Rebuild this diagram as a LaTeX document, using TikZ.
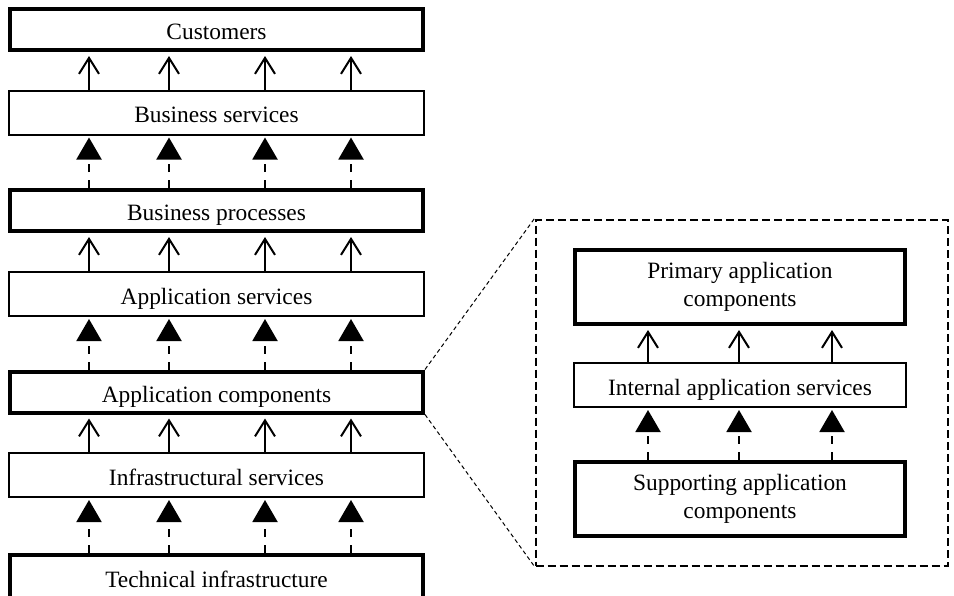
\documentclass[tikz,border=0pt]{standalone}
\usepackage{fontspec}
\setmainfont{Liberation Serif}
\usetikzlibrary{arrows.meta}

\begin{document}
\begin{tikzpicture}[x=0.5pt,y=-0.5pt,
    layer/.style={draw, inner sep=0pt, align=center, font=\fontsize{11.7}{14}\selectfont},
    oneline/.style={text height=11pt, text depth=0.7pt},
    thickbox/.style={layer, oneline, line width=2pt, minimum width=206.5pt, minimum height=20.5pt},
    thinbox/.style={layer, oneline, line width=1pt, minimum width=207.5pt, minimum height=22pt},
    twoline/.style={layer, line width=2pt, minimum width=165pt, minimum height=37pt},
    openarr/.style={-{Straight Barb[length=8pt,width=10pt]}, line width=1pt, shorten >=2pt},
    fillarr/.style={-{Triangle[length=11pt,width=12.5pt]}, line width=1pt, dash pattern=on 4pt off 4pt, shorten >=1pt}]
    \useasboundingbox (0,0) rectangle (954,595);
    % layer stack
    \node[thickbox] (cust) at (216.5,29.5) {Customers};
    \node[thinbox] (bserv) at (216.5,112.5) {Business services};
    \node[thickbox] (bproc) at (216.5,210.5) {Business processes};
    \node[thinbox] (aserv) at (216.5,294) {Application services};
    \node[thickbox] (acomp) at (216.5,392) {Application components};
    \node[thinbox] (iserv) at (216.5,475) {Infrastructural services};
    \node[thickbox, minimum height=22pt] (tinfra) at (216.5,577) {Technical infrastructure};
    \foreach \x in {89,169,265,351}{
        \draw[openarr] (bserv.north -| \x,0) -- (cust.south -| \x,0);
        \draw[fillarr] (bproc.north -| \x,0) -- (bserv.south -| \x,0);
        \draw[openarr] (aserv.north -| \x,0) -- (bproc.south -| \x,0);
        \draw[fillarr] (acomp.north -| \x,0) -- (aserv.south -| \x,0);
        \draw[openarr] (iserv.north -| \x,0) -- (acomp.south -| \x,0);
        \draw[fillarr] (tinfra.north -| \x,0) -- (iserv.south -| \x,0);
    }
    % detail of application components
    \node[draw, line width=1pt, dash pattern=on 4pt off 2pt, minimum width=206pt, minimum height=173pt] (detail) at (741.5,392.5) {};
    \draw[line width=0.5pt, dash pattern=on 2pt off 1.5pt] (acomp.north east) -- (detail.north west);
    \draw[line width=0.5pt, dash pattern=on 2pt off 1.5pt] (acomp.south east) -- (detail.south west);
    \node[twoline] (prim) at (740,287) {Primary application\\components};
    \node[thinbox, minimum width=166pt] (intsrv) at (740,385) {Internal application services};
    \node[twoline] (supp) at (740,498.5) {Supporting application\\components};
    \foreach \x in {648,739,832}{
        \draw[openarr] (intsrv.north -| \x,0) -- (prim.south -| \x,0);
        \draw[fillarr] (supp.north -| \x,0) -- (intsrv.south -| \x,0);
    }
\end{tikzpicture}
\end{document}
